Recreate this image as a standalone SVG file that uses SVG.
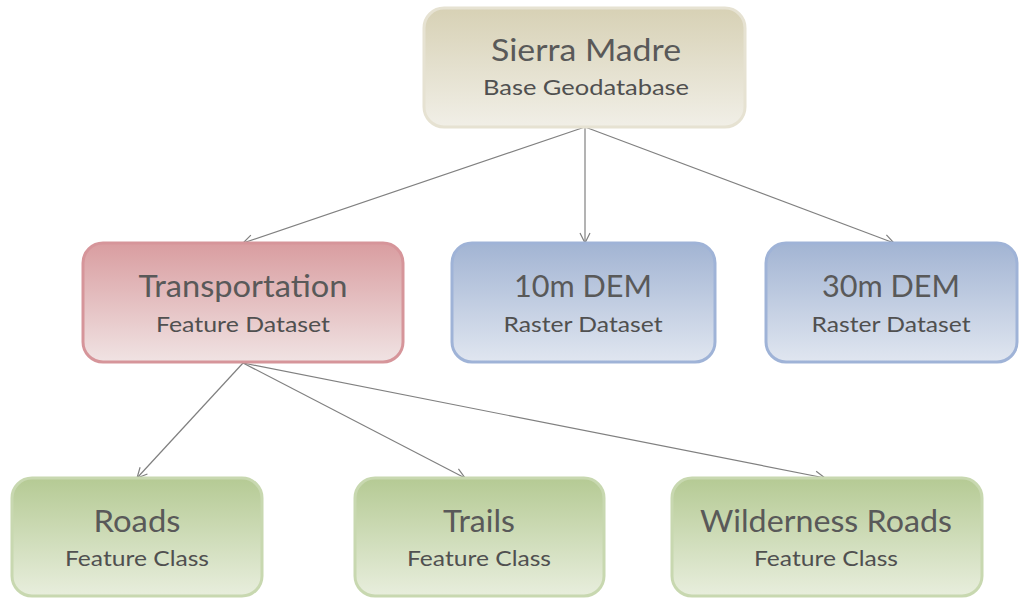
<svg xmlns="http://www.w3.org/2000/svg" width="1019" height="598" viewBox="0 0 1019 598">
<style>
.t{font-family:Lato,"Open Sans","Liberation Sans",sans-serif;fill:#595959;text-anchor:middle}
.h{font-size:30px}
.s{font-size:21px;fill:#505050}
.c{stroke:#808080;stroke-width:1.2;fill:none;marker-end:url(#ah)}
</style>
<defs>
<linearGradient id="gb" x1="0" y1="0" x2="0" y2="1"><stop offset="0" stop-color="#d7d1b5"/><stop offset="1" stop-color="#f1efe7"/></linearGradient>
<linearGradient id="gr" x1="0" y1="0" x2="0" y2="1"><stop offset="0" stop-color="#d99da0"/><stop offset="1" stop-color="#f0e3e3"/></linearGradient>
<linearGradient id="gu" x1="0" y1="0" x2="0" y2="1"><stop offset="0" stop-color="#a2b4d3"/><stop offset="1" stop-color="#e0e6f0"/></linearGradient>
<linearGradient id="gg" x1="0" y1="0" x2="0" y2="1"><stop offset="0" stop-color="#b5ca94"/><stop offset="1" stop-color="#e8eedd"/></linearGradient>
<marker id="ah" viewBox="0 0 12 12" refX="11" refY="6" markerWidth="12" markerHeight="12" markerUnits="userSpaceOnUse" orient="auto"><path d="M1,1 L11,6 L1,11" fill="none" stroke="#808080" stroke-width="1.2"/></marker>
</defs>
<rect width="1019" height="598" fill="#ffffff"/>
<g id="connectors">
<line class="c" x1="585" y1="127" x2="243" y2="243"/>
<line class="c" x1="585" y1="127" x2="585" y2="243"/>
<line class="c" x1="585" y1="127" x2="894" y2="243"/>
<line class="c" x1="243" y1="363" x2="137" y2="478"/>
<line class="c" x1="243" y1="363" x2="465" y2="478"/>
<line class="c" x1="243" y1="363" x2="825" y2="478"/>
</g>
<g id="sierra">
<rect x="424" y="8" width="321" height="119" rx="20" fill="url(#gb)" stroke="#e6e2d2" stroke-width="3"/>
<text class="t h" x="586" y="61" textLength="190" lengthAdjust="spacingAndGlyphs">Sierra Madre</text>
<text class="t s" x="586" y="95" textLength="206" lengthAdjust="spacingAndGlyphs">Base Geodatabase</text>
</g>
<g id="transportation">
<rect x="83" y="243" width="320" height="119" rx="20" fill="url(#gr)" stroke="#d6959a" stroke-width="3"/>
<text class="t h" x="243" y="297" textLength="209" lengthAdjust="spacingAndGlyphs">Transportation</text>
<text class="t s" x="243" y="332" textLength="174" lengthAdjust="spacingAndGlyphs">Feature Dataset</text>
</g>
<g id="dem10">
<rect x="452" y="243" width="263" height="119" rx="20" fill="url(#gu)" stroke="#9fb3d7" stroke-width="3"/>
<text class="t h" x="583" y="297" textLength="138" lengthAdjust="spacingAndGlyphs">10m DEM</text>
<text class="t s" x="583" y="332" textLength="159" lengthAdjust="spacingAndGlyphs">Raster Dataset</text>
</g>
<g id="dem30">
<rect x="766" y="243" width="251" height="119" rx="20" fill="url(#gu)" stroke="#9fb3d7" stroke-width="3"/>
<text class="t h" x="891" y="297" textLength="138" lengthAdjust="spacingAndGlyphs">30m DEM</text>
<text class="t s" x="891" y="332" textLength="159" lengthAdjust="spacingAndGlyphs">Raster Dataset</text>
</g>
<g id="roads">
<rect x="12" y="478" width="250" height="118" rx="20" fill="url(#gg)" stroke="#c8d8b0" stroke-width="3"/>
<text class="t h" x="137" y="532" textLength="87" lengthAdjust="spacingAndGlyphs">Roads</text>
<text class="t s" x="137" y="566" textLength="144" lengthAdjust="spacingAndGlyphs">Feature Class</text>
</g>
<g id="trails">
<rect x="355" y="478" width="249" height="118" rx="20" fill="url(#gg)" stroke="#c8d8b0" stroke-width="3"/>
<text class="t h" x="479" y="532" textLength="72" lengthAdjust="spacingAndGlyphs">Trails</text>
<text class="t s" x="479" y="566" textLength="144" lengthAdjust="spacingAndGlyphs">Feature Class</text>
</g>
<g id="wilderness">
<rect x="672" y="478" width="310" height="118" rx="20" fill="url(#gg)" stroke="#c8d8b0" stroke-width="3"/>
<text class="t h" x="826" y="532" textLength="252" lengthAdjust="spacingAndGlyphs">Wilderness Roads</text>
<text class="t s" x="826" y="566" textLength="144" lengthAdjust="spacingAndGlyphs">Feature Class</text>
</g>
</svg>
